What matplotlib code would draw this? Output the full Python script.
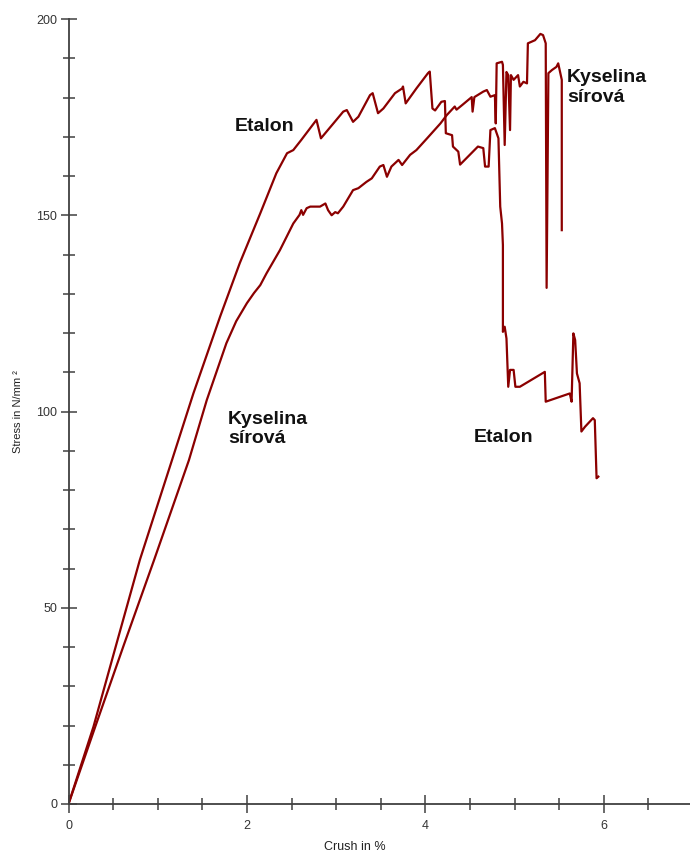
import matplotlib.pyplot as plt
from matplotlib.ticker import MultipleLocator

# Crush (%) and stress (N/mm2)
etalon_x = [0.0, 0.28, 0.55, 0.80, 1.16, 1.40, 1.70, 1.92, 2.15, 2.33, 2.45, 2.52,
            2.61, 2.65, 2.78, 2.83, 2.97, 3.08, 3.12, 3.16, 3.19, 3.25, 3.38, 3.41, 3.47,
            3.53, 3.66, 3.74, 3.75, 3.78, 3.90, 4.03, 4.05, 4.08, 4.11, 4.18, 4.22,
            4.23, 4.30, 4.31, 4.37, 4.39, 4.59, 4.65, 4.67, 4.71, 4.73, 4.78, 4.82,
            4.84, 4.86, 4.87, 4.87, 4.89, 4.91, 4.93, 4.95, 4.99, 5.01, 5.06, 5.34,
            5.35, 5.62, 5.64, 5.66, 5.68, 5.70, 5.73, 5.75, 5.79, 5.88, 5.90, 5.92,
            5.94]
etalon_y = [0.0, 19.7, 41.8, 62.2, 87.6, 104.6, 124.2, 137.8, 150.5, 160.7, 165.8, 166.6,
            169.2, 170.4, 174.3, 169.6, 173.4, 176.4, 176.8, 175.1, 173.8, 175.1, 180.6, 181.1, 176.0,
            177.2, 181.1, 182.3, 182.8, 178.5, 182.3, 186.2, 186.6, 177.2, 176.7, 178.9, 179.1,
            170.9, 170.4, 167.5, 166.2, 162.9, 167.5, 167.1, 162.4, 162.4, 171.7, 172.2, 169.6,
            152.2, 147.9, 142.4, 120.3, 121.6, 118.6, 106.3, 110.6, 110.6, 106.3, 106.3, 110.1,
            102.5, 104.6, 102.5, 119.9, 118.2, 109.7, 107.2, 94.9, 96.1, 98.3, 97.8, 83.0,
            83.4]

kyselina_x = [0.0, 0.30, 0.62, 0.96, 1.35, 1.55, 1.77, 1.88, 2.00, 2.08, 2.15, 2.22, 2.37, 2.52,
              2.59, 2.61, 2.63, 2.67, 2.71, 2.82, 2.88, 2.91, 2.95, 2.99, 3.02, 3.08, 3.19,
              3.25, 3.34, 3.40, 3.49, 3.53, 3.57, 3.62, 3.70, 3.74, 3.83, 3.90, 4.02,
              4.17, 4.24, 4.33, 4.35, 4.42, 4.52, 4.53, 4.55, 4.65, 4.69, 4.73, 4.78,
              4.79, 4.80, 4.86, 4.87, 4.89, 4.91, 4.93, 4.95, 4.96, 4.99, 5.04, 5.06,
              5.10, 5.14, 5.15, 5.23, 5.29, 5.32, 5.35, 5.36, 5.38, 5.42, 5.47, 5.49,
              5.53, 5.53]
kyselina_y = [0.0, 19.7, 40.5, 62.2, 87.6, 102.9, 117.4, 123.0, 127.6, 130.2, 132.2, 135.2, 141.1, 147.9,
              150.1, 151.3, 150.1, 151.8, 152.2, 152.2, 153.0, 151.3, 150.0, 150.8, 150.5, 152.2, 156.4,
              156.9, 158.5, 159.4, 162.4, 162.8, 159.8, 162.4, 164.1, 162.8, 165.4, 166.6, 169.6,
              173.4, 175.5, 177.7, 176.9, 178.2, 180.1, 176.4, 180.1, 181.5, 181.9, 180.2, 180.6,
              173.4, 188.7, 189.1, 188.3, 167.9, 186.5, 185.7, 171.7, 185.7, 184.5, 185.7, 182.8,
              184.0, 183.6, 193.8, 194.6, 196.2, 195.9, 193.8, 131.5, 186.2, 187.0, 187.8, 188.7,
              184.5, 146.2]

line_color = '#8b0000'
axis_color = '#404040'

fig = plt.figure(figsize=(6.9, 8.56), dpi=100)
ax = fig.add_axes([68.5 / 690, 52 / 856, (690 - 68.5) / 690, 785 / 856])

ax.plot(etalon_x, etalon_y, color=line_color, lw=1.6)
ax.plot(kyselina_x, kyselina_y, color=line_color, lw=1.6)

# curve labels
lbl = dict(fontsize=14, fontweight='bold', family='Liberation Sans', color='#111111')
ax.text(2.20, 172.5, 'Etalon', ha='center', va='center', **lbl)
ax.text(1.79, 95.5, 'Kyselina\nsírová', ha='left', va='center', linespacing=1.2, **lbl)
ax.text(4.54, 93.5, 'Etalon', ha='left', va='center', **lbl)
ax.text(5.59, 182.5, 'Kyselina\nsírová', ha='left', va='center', linespacing=1.2, **lbl)

ax.set_xlim(0, (690 - 68.5) / 89.2)
ax.set_ylim(0, 200)

for s in ['top', 'right']:
    ax.spines[s].set_visible(False)
for s in ['left', 'bottom']:
    ax.spines[s].set_color(axis_color)
    ax.spines[s].set_linewidth(1.3)

ax.xaxis.set_major_locator(MultipleLocator(2))
ax.xaxis.set_minor_locator(MultipleLocator(0.5))
ax.yaxis.set_major_locator(MultipleLocator(50))
ax.yaxis.set_minor_locator(MultipleLocator(10))

ax.tick_params(axis='x', which='major', direction='inout', length=13, width=1.1,
               color=axis_color, labelsize=9, pad=5)
ax.tick_params(axis='x', which='minor', direction='inout', length=9, width=1.1,
               color=axis_color)
ax.tick_params(axis='y', which='major', direction='inout', length=12, width=1.1,
               color=axis_color, labelsize=9, pad=2)
ax.tick_params(axis='y', which='minor', direction='inout', length=9, width=1.1,
               color=axis_color)
for t in ax.get_xticklabels() + ax.get_yticklabels():
    t.set_family('Liberation Sans')
    t.set_color('#333333')

ax.set_xlabel('Crush in %', fontsize=9, family='Liberation Sans', color='#222222')
ax.set_ylabel('Stress in N/mm ²', fontsize=8, family='Liberation Sans', color='#222222')
ax.xaxis.set_label_coords(0.46, -0.047)
ax.yaxis.set_label_coords(-0.073, 0.5)

fig.savefig('out.png', dpi=100)
